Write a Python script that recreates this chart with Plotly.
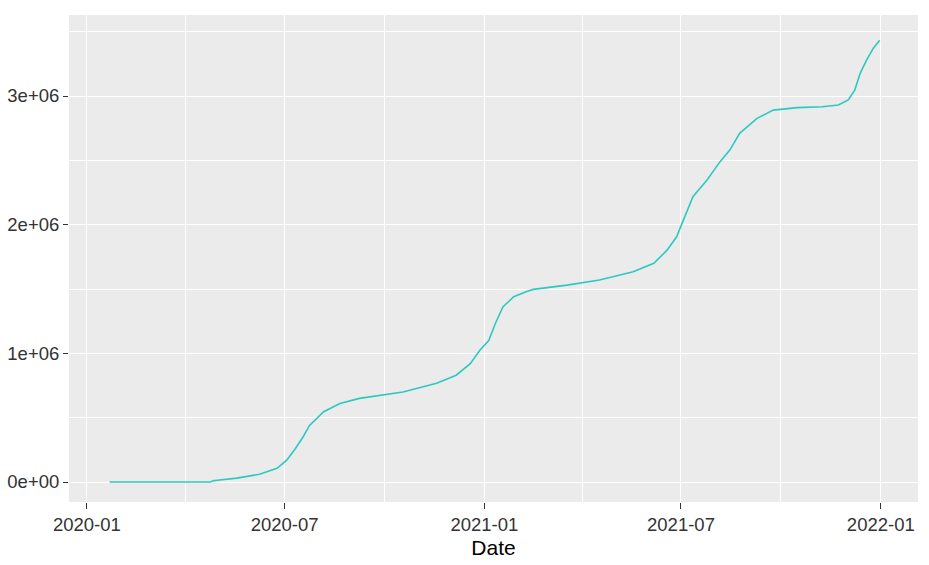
import plotly.graph_objects as go

dates = [
    "2020-01-22", "2020-02-28", "2020-04-24", "2020-04-26", "2020-05-18", "2020-06-08",
    "2020-06-24", "2020-07-03", "2020-07-11", "2020-07-18", "2020-07-24",
    "2020-08-06", "2020-08-21", "2020-09-08", "2020-09-27", "2020-10-18",
    "2020-11-18", "2020-12-06", "2020-12-19", "2020-12-28", "2021-01-05",
    "2021-01-11", "2021-01-18", "2021-01-28", "2021-02-09", "2021-02-15",
    "2021-03-18", "2021-04-17", "2021-05-18", "2021-06-06", "2021-06-18",
    "2021-06-27", "2021-07-02", "2021-07-12", "2021-07-25", "2021-08-06",
    "2021-08-15", "2021-08-24", "2021-09-09", "2021-09-24", "2021-10-16",
    "2021-11-08", "2021-11-23", "2021-12-02", "2021-12-08", "2021-12-13",
    "2021-12-19", "2021-12-25", "2021-12-31",
]
values = [
    0, 0, 0, 10000, 30000, 60000,
    106000, 170000, 260000, 350000, 440000,
    546000, 610000, 650000, 675000, 700000,
    767000, 830000, 920000, 1026000, 1100000,
    1230000, 1360000, 1440000, 1480000, 1497000,
    1530000, 1570000, 1634000, 1700000, 1800000,
    1906000, 2010000, 2217000, 2347000, 2490000,
    2580000, 2710000, 2826000, 2890000, 2910000,
    2916000, 2930000, 2970000, 3046000, 3176000,
    3280000, 3370000, 3434000,
]
x_ticks = ["2020-01-01", "2020-07-01", "2021-01-01", "2021-07-01", "2022-01-01"]
x_tick_labels = ["2020-01", "2020-07", "2021-01", "2021-07", "2022-01"]
y_ticks = [0, 1000000, 2000000, 3000000]
y_tick_labels = ["0e+00", "1e+06", "2e+06", "3e+06"]

fig = go.Figure()
fig.add_trace(go.Scatter(
    x=dates, y=values, mode="lines",
    line=dict(color="#2CC9C0", width=1.6),
    showlegend=False,
))

tickfont = dict(family="Liberation Sans, Arial, sans-serif", size=18.5, color="#333333")

fig.update_layout(
    width=929, height=565,
    margin=dict(l=69, r=11, t=15, b=63),
    paper_bgcolor="white",
    plot_bgcolor="#EBEBEB",
    xaxis=dict(
        range=["2019-12-15 12:00", "2022-02-04 06:00"],
        tickvals=x_ticks, ticktext=x_tick_labels,
        tickfont=tickfont,
        automargin=False,
        showgrid=True, gridcolor="white", gridwidth=1.4,
        ticks="outside", ticklen=6, tickwidth=1.2, tickcolor="#333333",
        zeroline=False, showline=False,
        minor=dict(dtick="M3", tick0="2020-01-01", showgrid=True, gridcolor="white", gridwidth=0.7),
        title=dict(text="Date", font=dict(family="Liberation Sans, Arial, sans-serif", size=21, color="black"), standoff=6),
    ),
    yaxis=dict(
        range=[-155400, 3629500],
        tickvals=y_ticks, ticktext=y_tick_labels,
        tickfont=tickfont,
        automargin=False,
        showgrid=True, gridcolor="white", gridwidth=1.4,
        ticks="outside", ticklen=5, tickwidth=1.2, tickcolor="#333333",
        zeroline=False, showline=False,
        minor=dict(dtick=500000, tick0=0, showgrid=True, gridcolor="white", gridwidth=0.7),
    ),
)

fig.write_html(
    "out.html",
    config={"displayModeBar": False},
    post_script="document.body.style.margin='0';document.body.style.overflow='hidden';",
)
